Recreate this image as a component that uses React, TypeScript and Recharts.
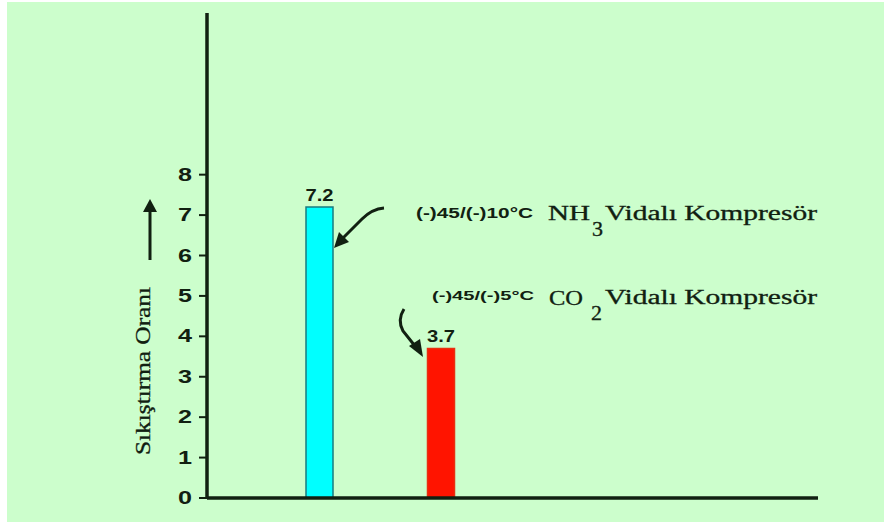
import React from 'react';
import { BarChart, Bar, XAxis, YAxis, Cell, LabelList } from 'recharts';

const compressors = ['NH3', 'CO2'];
const ratios = [7.2, 3.7];
const yTicks = [0, 1, 2, 3, 4, 5, 6, 7, 8];
const yDomain = [0, 12];
const yTitle = 'Sıkıştırma Oranı';

const data = compressors.map((name, i) => ({ name, ratio: ratios[i] }));

const INK = '#112011';
const fills = ['#00ffff', '#ff1400'];
const edges = ['#177c80', '#e83010'];

const YTick = (props: any) => {
  const { x, y, payload } = props;
  return (
    <text
      x={x}
      y={y}
      dy={6}
      textAnchor="end"
      fontFamily="'Liberation Sans', Arial, sans-serif"
      fontWeight="bold"
      fontSize={18}
      fill={INK}
      textLength={14}
      lengthAdjust="spacingAndGlyphs"
    >
      {payload.value}
    </text>
  );
};

const ValueLabel = (props: any) => {
  const { x, y, width, value } = props;
  return (
    <text
      x={x + width / 2}
      y={y - 6}
      textAnchor="middle"
      fontFamily="'Liberation Sans', Arial, sans-serif"
      fontWeight="bold"
      fontSize={16}
      fill={INK}
      textLength={28}
      lengthAdjust="spacingAndGlyphs"
    >
      {value}
    </text>
  );
};

const bold = {
  fontFamily: "'Liberation Sans', Arial, sans-serif",
  fontWeight: 'bold' as const,
  fill: INK,
};
const serif = {
  fontFamily: "'Liberation Serif', 'Times New Roman', serif",
  fill: INK,
  stroke: INK,
  strokeWidth: 0.3,
};

// arrows, axis title and the two compressor notes
const Annotations = () => (
  <svg
    width={884}
    height={522}
    style={{ position: 'absolute', left: 0, top: 0, pointerEvents: 'none' }}
  >
    {/* upward arrow next to the axis title */}
    <line x1={150} y1={260} x2={150} y2={210} stroke={INK} strokeWidth={3} />
    <path d="M143,212 L150,199 L157,212 Z" fill={INK} />
    <text
      transform="translate(150,371) rotate(-90)"
      textAnchor="middle"
      fontSize={21}
      textLength={168}
      lengthAdjust="spacingAndGlyphs"
      {...serif}
    >
      {yTitle}
    </text>

    {/* NH3 note */}
    <path d="M384,208 Q372,209 362,219 L343,238" stroke={INK} strokeWidth={3} fill="none" />
    <path d="M334,248 L339,232 L349,242 Z" fill={INK} />
    <text x={416} y={218} fontSize={14} textLength={117} lengthAdjust="spacingAndGlyphs" {...bold}>
      (-)45/(-)10°C
    </text>
    <text x={548} y={220} fontSize={20} textLength={42} lengthAdjust="spacingAndGlyphs" {...serif}>
      NH
    </text>
    <text x={592} y={236} fontSize={20} textLength={11} lengthAdjust="spacingAndGlyphs" {...serif}>
      3
    </text>
    <text x={605} y={220} fontSize={20} textLength={212} lengthAdjust="spacingAndGlyphs" {...serif}>
      Vidalı Kompresör
    </text>

    {/* CO2 note */}
    <path d="M404,309 Q397,320 403,331 L415,346" stroke={INK} strokeWidth={3} fill="none" />
    <path d="M423,357 L409,346 L420,339 Z" fill={INK} />
    <text x={432} y={300} fontSize={13} textLength={102} lengthAdjust="spacingAndGlyphs" {...bold}>
      (-)45/(-)5°C
    </text>
    <text x={549} y={305} fontSize={20} textLength={34} lengthAdjust="spacingAndGlyphs" {...serif}>
      CO
    </text>
    <text x={591} y={320} fontSize={20} textLength={11} lengthAdjust="spacingAndGlyphs" {...serif}>
      2
    </text>
    <text x={605} y={304} fontSize={20} textLength={212} lengthAdjust="spacingAndGlyphs" {...serif}>
      Vidalı Kompresör
    </text>
  </svg>
);

export default function App() {
  return (
    <div style={{ position: 'absolute', left: 0, top: 0, width: 884, height: 522, background: '#ffffff' }}>
      <div style={{ position: 'absolute', left: 7, top: 2, right: 0, bottom: 0, background: '#ccfecc' }} />
      <div style={{ position: 'absolute', left: 0, top: 0 }}>
        <BarChart width={884} height={522} data={data} margin={{ top: 13, right: 66, bottom: 23, left: 147 }}>
          <XAxis
            dataKey="name"
            height={1}
            tick={false}
            tickLine={false}
            axisLine={{ stroke: INK, strokeWidth: 3.5 }}
            padding={{ left: 52, right: 316 }}
          />
          <YAxis
            width={60}
            domain={yDomain}
            ticks={yTicks}
            allowDataOverflow
            tick={<YTick />}
            tickSize={8}
            tickMargin={7}
            tickLine={{ stroke: INK, strokeWidth: 2 }}
            axisLine={{ stroke: INK, strokeWidth: 3.5 }}
          />
          <Bar dataKey="ratio" barSize={27} isAnimationActive={false}>
            {data.map((d, i) => (
              <Cell key={d.name} fill={fills[i]} stroke={edges[i]} strokeWidth={1.5} />
            ))}
            <LabelList dataKey="ratio" content={<ValueLabel />} />
          </Bar>
        </BarChart>
      </div>
      <Annotations />
    </div>
  );
}
